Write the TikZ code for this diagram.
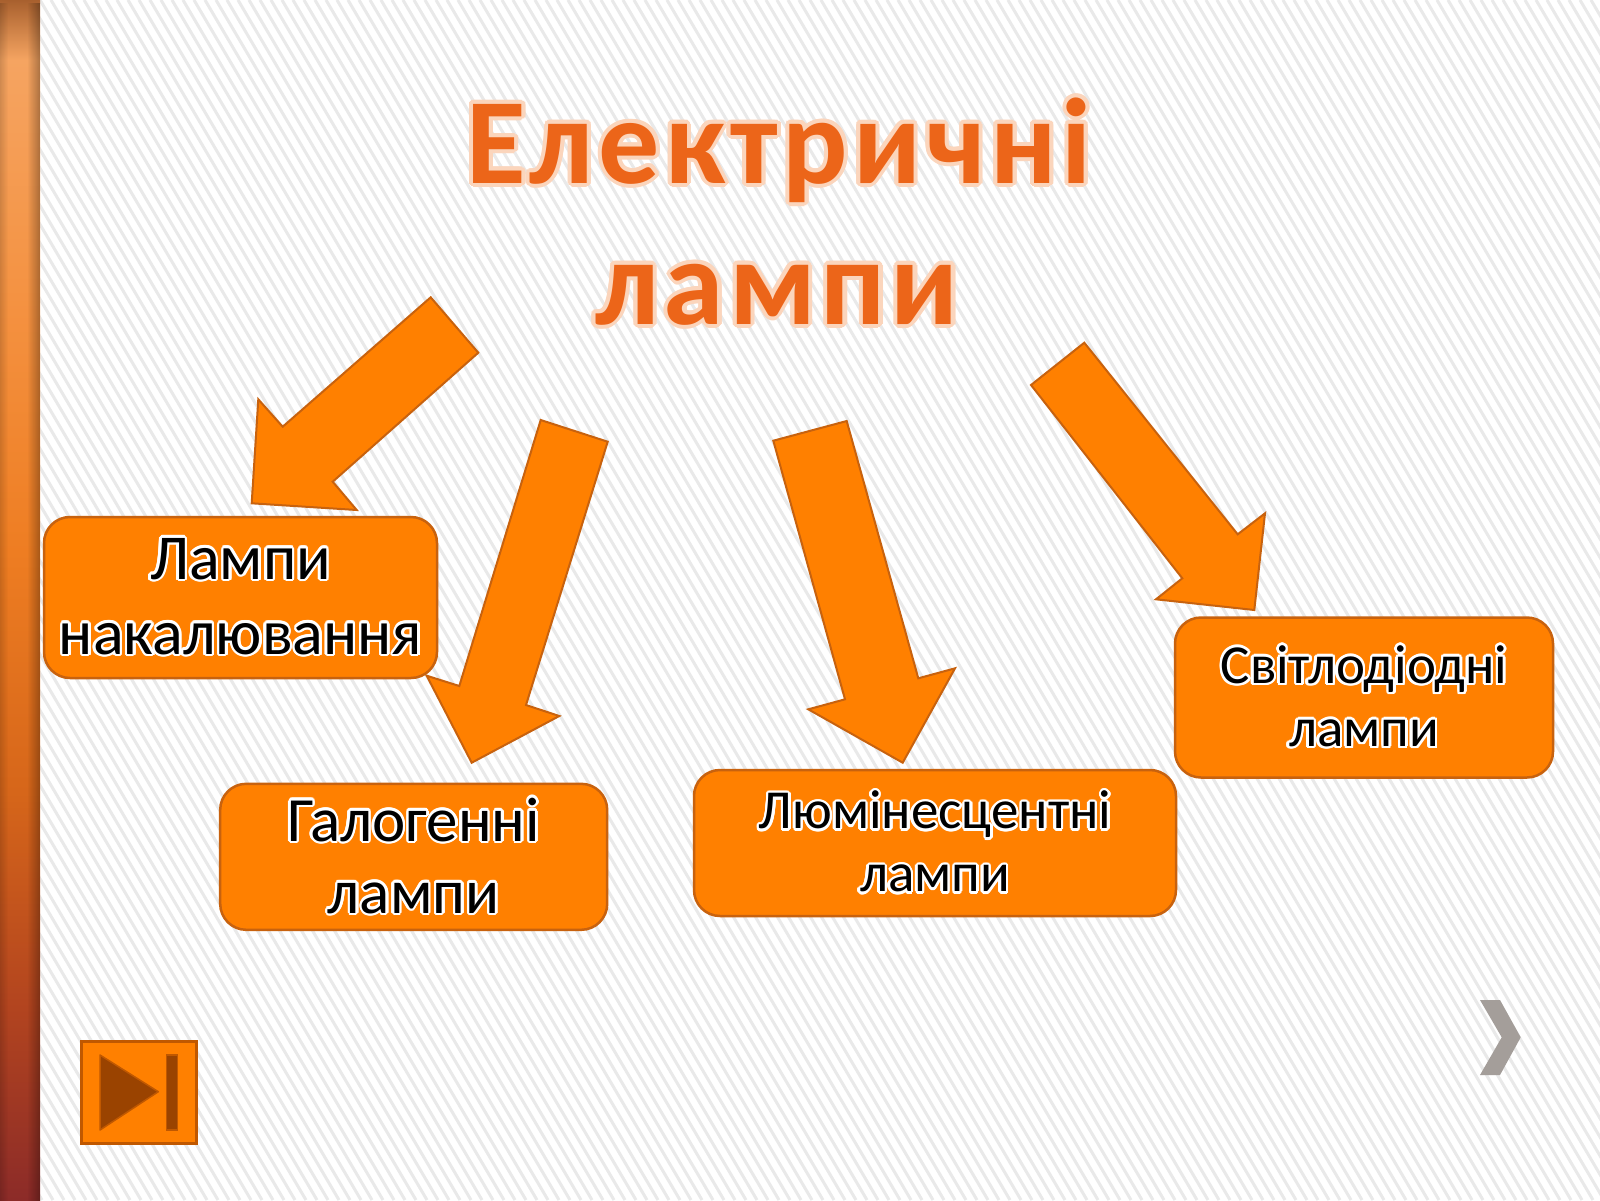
\documentclass[tikz,border=0pt]{standalone}
\usepackage{fontspec}
\setmainfont{Carlito}
\newfontfamily\titlefam{Carlito}[LetterSpace=4.0]
\usepackage{contour}
\contourlength{2.5pt}
\usetikzlibrary{fadings}
\definecolor{boxfill}{HTML}{FF8000}
\definecolor{boxedge}{HTML}{C8620E}
\definecolor{titlecol}{HTML}{EC6519}
\definecolor{glow}{HTML}{FBD5BC}
\definecolor{stripe}{HTML}{E9E9E9}
\definecolor{chev}{HTML}{A49E9A}
\definecolor{navdark}{HTML}{9A4300}
\definecolor{navedge}{HTML}{C05800}
\definecolor{barA}{HTML}{A8602E}
\definecolor{barB}{HTML}{F5A461}
\definecolor{barC}{HTML}{F49140}
\definecolor{barD}{HTML}{EE7D22}
\definecolor{barE}{HTML}{D6661A}
\definecolor{barF}{HTML}{B2441F}
\definecolor{barG}{HTML}{8C2B28}
\pgfdeclareverticalshading{barshade}{100bp}{color(0bp)=(barG); color(25bp)=(barG); color(33bp)=(barF); color(42bp)=(barE); color(52bp)=(barD); color(62bp)=(barC); color(72.5bp)=(barB); color(75bp)=(barA); color(100bp)=(barA)}
\newcommand\outl[1]{\contour{white}{#1}}
\newcommand\glowtxt[1]{{\contourlength{4pt}\contour{glow}{#1}}}
\begin{document}
\begin{tikzpicture}[x=1pt,y=-1pt,
  lampbox/.style={draw=boxedge, line width=2.5pt, fill=boxfill, rounded corners=26pt, align=center, inner sep=0pt, text=black},
  blockarrow/.style={draw=boxedge, line width=2pt, fill=boxfill, line join=miter},
  titletext/.style={text=titlecol, font=\titlefam\bfseries\fontsize{122}{140}\selectfont, anchor=base, inner sep=0pt}]
\useasboundingbox (0,0) rectangle (1600,1200);
% background
\fill[white] (0,0) rectangle (1600,1200);
\begin{scope}
\clip (40,0) rectangle (1600,1200);
\foreach \i in {-66,...,142}{
  \draw[stripe, line width=3pt] ({40+\i*11},0) -- ({40+\i*11+706},1200);
}
\end{scope}
% left bar
\fill[shading=barshade] (0,0) rectangle (40,1200);
\fill[black, opacity=0.3, path fading=west] (27,0) rectangle (40,1200);
\fill[black, opacity=0.15, path fading=east] (0,0) rectangle (8,1200);
% title
\node[titletext] (t1) at (779,183) {\glowtxt{Електричні}};
\node[titletext] (t2) at (777,324) {\glowtxt{лампи}};
% block arrows
\fill[blockarrow] (430.7,297.3) -- (478.3,352.7) -- (332.7,481.7) -- (356.7,510) -- (251.7,503.3) -- (258.3,399.3) -- (282.7,426.7) -- cycle;
\fill[blockarrow] (540.7,420) -- (607.7,441.7) -- (526,705) -- (559.3,716) -- (471.7,762.7) -- (426.7,675.7) -- (459.3,686) -- cycle;
\fill[blockarrow] (846.7,421) -- (773.3,440.7) -- (845,699.3) -- (808.3,709.3) -- (902.7,762.7) -- (955,668.3) -- (918.3,678.3) -- cycle;
\fill[blockarrow] (1084.3,342.7) -- (1031,385) -- (1182.3,578.3) -- (1156,599.3) -- (1254.3,610) -- (1265,513.3) -- (1237.7,534.3) -- cycle;
% boxes
\node[lampbox, minimum width=393pt, minimum height=161pt, font=\fontsize{64}{75}\selectfont] (inc) at (240.5,597.5) {\outl{Лампи}\\\outl{накалювання}};
\node[lampbox, minimum width=387pt, minimum height=146pt, font=\fontsize{63}{72}\selectfont] (hal) at (413.7,856.8) {\outl{Галогенні}\\\outl{лампи}};
\node[lampbox, minimum width=482pt, minimum height=146pt, font=\fontsize{55}{63}\selectfont] (lum) at (935,843) {\outl{Люмінесцентні}\\\outl{лампи}};
\node[lampbox, minimum width=378pt, minimum height=160pt, font=\fontsize{55}{63}\selectfont] (led) at (1364,697.5) {\outl{Світлодіодні}\\\outl{лампи}};
% nav button
\node[draw=navedge, fill=boxfill, line width=2.5pt, minimum width=115pt, minimum height=101.6pt, inner sep=0pt] (nav) at (139.2,1092.5) {};
\filldraw[fill=navdark, draw=navedge, line width=1.5pt, line join=round] (100,1055) -- (100,1130) -- (158.3,1091.7) -- cycle;
\filldraw[fill=navdark, draw=navedge, line width=1.5pt] (166.7,1055) rectangle (177.3,1130);
% chevron
\fill[chev] (1480,1000) -- (1500,1000) -- (1520.7,1037.3) -- (1500,1075) -- (1480,1075) -- (1501.7,1037.3) -- cycle;
\end{tikzpicture}
\end{document}
